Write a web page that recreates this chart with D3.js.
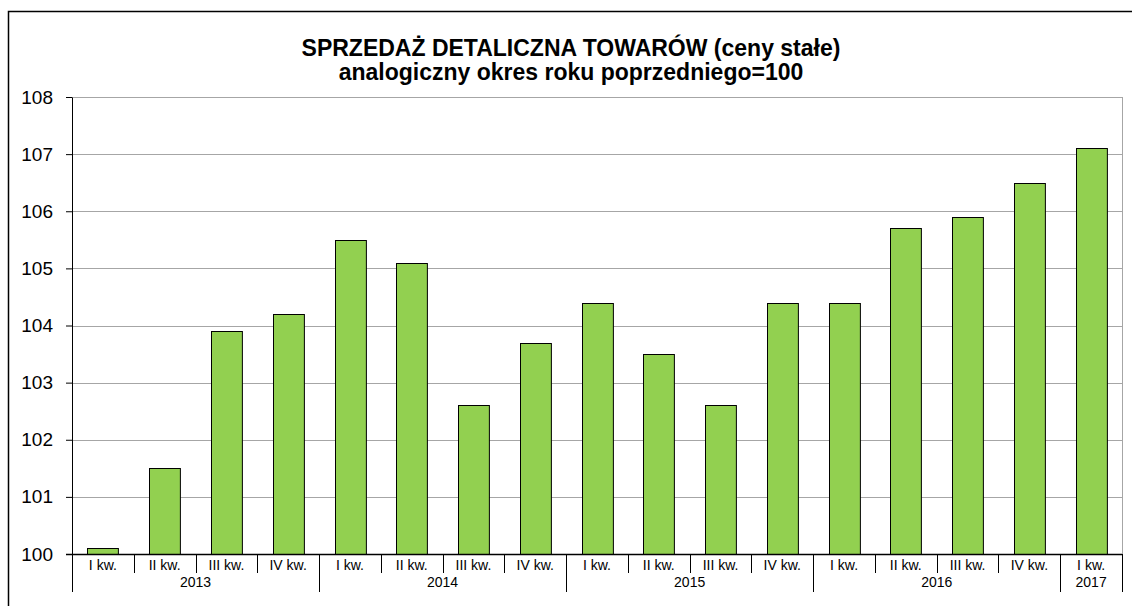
<!DOCTYPE html>
<html>
<head>
<meta charset="utf-8">
<script src="https://cdn.jsdelivr.net/npm/d3@7"></script>
<style>
  body { margin: 0; background: #fff; }
  svg { font-family: "Liberation Sans", Arial, sans-serif; }
  .grid line { stroke: #a6a6a6; stroke-width: 1; }
  .bar { fill: #92d050; stroke: #000; stroke-width: 1; }
</style>
</head>
<body>
<div id="chart"></div>
<script>
// quarters and years for the two-level x axis
const quarters = ["I kw.", "II kw.", "III kw.", "IV kw.", "I kw.", "II kw.", "III kw.", "IV kw.",
  "I kw.", "II kw.", "III kw.", "IV kw.", "I kw.", "II kw.", "III kw.", "IV kw.", "I kw."];
const years = ["2013", "2014", "2015", "2016", "2017"];
const quartersPerYear = [4, 4, 4, 4, 1];
const values = [100.1, 101.5, 103.9, 104.2, 105.5, 105.1, 102.6, 103.7,
  104.4, 103.5, 102.6, 104.4, 104.4, 105.7, 105.9, 106.5, 107.1];
const yTicks = [100, 101, 102, 103, 104, 105, 106, 107, 108];

let width = 1132,
  height = 606,
  margin = {top: 97, right: 10, bottom: 52, left: 72};

let svg = d3.select("#chart")
  .append("svg")
  .attr("width", width)
  .attr("height", height);

// outer frame
svg.append("rect")
  .attr("x", 8.5)
  .attr("y", 11.5)
  .attr("width", width)
  .attr("height", height)
  .attr("fill", "none")
  .attr("stroke", "#000")
  .attr("stroke-width", 1.5);

let innerW = width - margin.left - margin.right,
  innerH = height - margin.top - margin.bottom;

let g = svg.append("g").attr("transform", `translate(${margin.left},${margin.top})`);

let idx = d3.range(values.length);
let xScale = d3.scaleBand().domain(idx).range([0, innerW]).paddingInner(0.5).paddingOuter(0.25);
let yScale = d3.scaleLinear().domain([100, 108]).range([innerH, 0]);
let step = innerW / values.length;

// gridlines
g.append("g")
  .attr("class", "grid")
  .selectAll("line")
  .data(yTicks.slice(1))
  .enter().append("line")
  .attr("x1", 0)
  .attr("x2", innerW)
  .attr("y1", d => Math.round(yScale(d)) + 0.5)
  .attr("y2", d => Math.round(yScale(d)) + 0.5);

// right edge of the plot
g.append("line")
  .attr("x1", innerW + 0.5).attr("x2", innerW + 0.5)
  .attr("y1", 0).attr("y2", innerH)
  .attr("stroke", "#a6a6a6");

// bars
g.selectAll(".bar")
  .data(values)
  .enter().append("rect")
  .attr("class", "bar")
  .attr("x", (d, i) => Math.round(xScale(i)) + 0.5)
  .attr("y", d => Math.round(yScale(d)) + 0.5)
  .attr("width", xScale.bandwidth())
  .attr("height", d => Math.round(yScale(100)) - Math.round(yScale(d)));

// y axis
let yAxis = d3.axisLeft(yScale).tickValues(yTicks).tickSize(6).tickPadding(13).tickSizeOuter(0);
let yG = g.append("g").call(yAxis);
yG.select(".domain").attr("stroke", "#000");
yG.selectAll("text").attr("font-size", 19).attr("fill", "#000")
  .attr("font-family", "'Liberation Sans', Arial, sans-serif");

// x axis baseline
g.append("line")
  .attr("x1", -6).attr("x2", innerW)
  .attr("y1", innerH + 0.5).attr("y2", innerH + 0.5)
  .attr("stroke", "#000").attr("stroke-width", 1.5);

// quarter separators
g.selectAll(".qsep")
  .data(d3.range(1, values.length))
  .enter().append("line")
  .attr("x1", d => Math.round(d * step) + 0.5)
  .attr("x2", d => Math.round(d * step) + 0.5)
  .attr("y1", innerH)
  .attr("y2", innerH + 19)
  .attr("stroke", "#000");

// year separators
let bounds = [0];
quartersPerYear.forEach(n => bounds.push(bounds[bounds.length - 1] + n));
g.selectAll(".ysep")
  .data(bounds)
  .enter().append("line")
  .attr("x1", d => Math.round(d * step) + 0.5)
  .attr("x2", d => Math.round(d * step) + 0.5)
  .attr("y1", innerH)
  .attr("y2", innerH + 38)
  .attr("stroke", "#000");

// quarter labels
g.selectAll(".qlabel")
  .data(quarters)
  .enter().append("text")
  .attr("x", (d, i) => xScale(i) + xScale.bandwidth() / 2)
  .attr("y", innerH + 16)
  .attr("text-anchor", "middle")
  .attr("font-size", 14)
  .text(d => d);

// year labels
g.selectAll(".ylabel")
  .data(years)
  .enter().append("text")
  .attr("x", (d, i) => (bounds[i] + bounds[i + 1]) / 2 * step)
  .attr("y", innerH + 33)
  .attr("text-anchor", "middle")
  .attr("font-size", 14)
  .text(d => d);

// title
svg.append("text")
  .attr("x", 571)
  .attr("y", 56)
  .attr("text-anchor", "middle")
  .attr("font-size", 23)
  .attr("font-weight", "bold")
  .text("SPRZEDAŻ DETALICZNA TOWARÓW (ceny stałe)");
svg.append("text")
  .attr("x", 571)
  .attr("y", 80)
  .attr("text-anchor", "middle")
  .attr("font-size", 23)
  .attr("font-weight", "bold")
  .text("analogiczny okres roku poprzedniego=100");
</script>
</body>
</html>
